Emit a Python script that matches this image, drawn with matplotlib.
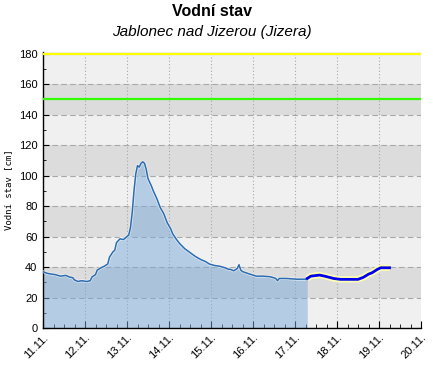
import matplotlib.pyplot as plt
from matplotlib.ticker import FixedLocator, MultipleLocator

# hours since 11.11. 00:00 -> water level [cm]
obs_hours = [0, 2, 4, 7, 10, 13, 15, 17, 18, 20, 22, 25, 27, 28, 30, 31, 34, 35,
             37, 38, 40, 41, 42, 44, 46, 47, 49, 50, 51, 52, 53, 54, 55, 56, 57,
             58, 59, 60, 62, 63, 65, 66, 67, 69, 70, 71, 73, 74, 76, 78, 81, 84,
             87, 90, 93, 95, 98, 101, 104, 106, 107, 109, 111, 112, 113, 114, 117,
             120, 122, 126, 130, 133, 134, 135, 139, 145, 150, 151]
obs_level = [37, 36, 35.5, 35, 34, 34.5, 33.5, 33, 31.5, 30.5, 31, 30.5, 31, 33.5,
             35, 38, 40, 40.5, 42, 46.5, 50, 51, 56, 58.5, 58, 59, 61, 66, 76, 90,
             101, 106.5, 105.5, 108, 109, 108, 104, 98, 93, 90, 85, 82, 79, 75, 72,
             69, 65, 62, 58.5, 55.5, 52, 49.5, 47, 45, 43.5, 42, 41, 40.5, 39.5,
             38.5, 38.5, 37.5, 39, 41.5, 38, 37, 35.8, 34.7, 34, 34, 33.6, 32.5, 31,
             32.5, 32.5, 32, 32, 32.5]

fc_hours = [151, 153, 158, 161, 166, 170, 180, 183, 186, 188, 191, 193, 198]
fc_level = [32.5, 34, 34.7, 34, 32.5, 31.9, 31.9, 33.2, 35.3, 36.2, 38.4, 39.5, 39.5]

day_ticks = [0, 24, 48, 72, 96, 120, 144, 168, 192, 216]
day_labels = ["11.11.", "12.11.", "13.11.", "14.11.", "15.11.",
              "16.11.", "17.11.", "18.11.", "19.11.", "20.11."]

level_flood = 180   # yellow line
level_alert = 150   # green line

fig = plt.figure(figsize=(4.33, 3.70), dpi=100)
ax = fig.add_axes([43 / 433, 1 - 328 / 370, (421 - 43) / 433, (328 - 52) / 370])

ax.set_xlim(0, 216)
ax.set_ylim(0, 181)

# alternating background bands
ax.set_facecolor("#f0f0f0")
for lo in range(20, 180, 40):
    ax.axhspan(lo, lo + 20, color="#dcdcdc", lw=0, zorder=0)

ax.grid(axis="y", color="#a8a8a8", linestyle=(0, (5, 3)), linewidth=0.8, zorder=1)
ax.grid(axis="x", color="#a8a8a8", linestyle=(0, (1, 2)), linewidth=0.8, zorder=1)

ax.axhline(level_flood, color="#ffff00", linewidth=1.6, zorder=3)
ax.axhline(level_alert, color="#33ff00", linewidth=1.6, zorder=3)

ax.fill_between(obs_hours, 0, obs_level, color="#7aabdb", alpha=0.5, lw=0, zorder=2)
ax.plot(obs_hours, obs_level, color="white", linewidth=2.2, alpha=0.6, zorder=4)
ax.plot(obs_hours, obs_level, color="#2b6cb0", linewidth=1.1, zorder=5)

ax.plot(fc_hours, fc_level, color="#ffffb0", linewidth=4.5, solid_capstyle="butt", zorder=4)
ax.plot(fc_hours, fc_level, color="#0000ee", linewidth=2.0, zorder=5)

for s in ("top", "right"):
    ax.spines[s].set_visible(False)
ax.spines["left"].set_linewidth(1)
ax.spines["bottom"].set_linewidth(1)

ax.yaxis.set_major_locator(MultipleLocator(20))
ax.yaxis.set_minor_locator(MultipleLocator(10))
ax.xaxis.set_major_locator(FixedLocator(day_ticks))
ax.xaxis.set_minor_locator(MultipleLocator(6))
ax.set_xticklabels(day_labels)
ax.tick_params(which="both", direction="in", colors="black")
ax.tick_params(axis="y", which="major", length=4, labelsize=8, pad=4)
ax.tick_params(axis="y", which="minor", length=2)
ax.tick_params(axis="x", which="major", length=5, labelsize=8, pad=3)
ax.tick_params(axis="x", which="minor", length=3)
for lab in ax.get_xticklabels():
    lab.set_rotation(45)
    lab.set_ha("right")
    lab.set_va("top")
    lab.set_rotation_mode("anchor")
for lab in ax.get_xticklabels() + ax.get_yticklabels():
    lab.set_family("Liberation Sans")

ax.set_ylabel("Vodní stav [cm]", family="DejaVu Sans Mono", fontsize=6.5, labelpad=4)

fig.text(212 / 433, 1 - 12 / 370, "Vodní stav", ha="center", va="center",
         family="Liberation Sans", fontweight="bold", fontsize=11.5)
fig.text(212 / 433, 1 - 32 / 370, "Jablonec nad Jizerou (Jizera)", ha="center",
         va="center", family="Liberation Sans", style="italic", fontsize=11)

fig.savefig("out.png", dpi=100)
